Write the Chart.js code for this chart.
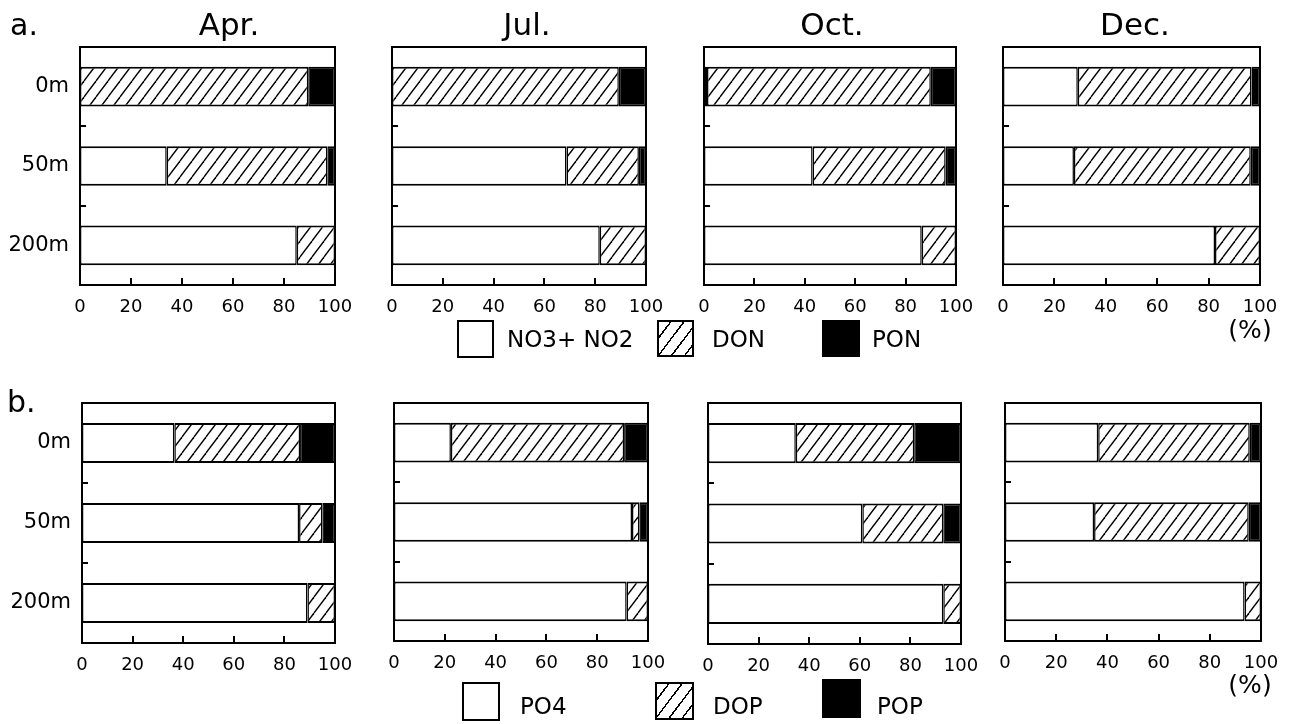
<!DOCTYPE html>
<html>
<head>
<meta charset="utf-8">
<script src="https://cdn.jsdelivr.net/npm/chart.js@4.4.1/dist/chart.umd.min.js"></script>
<style>
  body { margin: 0; background: #fff; width: 1289px; height: 724px; position: relative; overflow: hidden;
         font-family: "DejaVu Sans", sans-serif; color: #000; }
  canvas { position: absolute; }
  .t { position: absolute; white-space: nowrap; line-height: 1; }
  .sw { position: absolute; border: 2px solid #000; box-sizing: border-box; background: #fff; }
  .sw.h { background: repeating-linear-gradient(127deg, #fff 0 8.5px, #000 8.5px 10px, #fff 10px 10.5px); }
  .sw.k { background: #000; }
</style>
</head>
<body>
<script>
const depths = ["0m", "50m", "200m"];
const months = ["Apr.", "Jul.", "Oct.", "Dec."];

// a. 질소 (%), 월별로 [0m, 50m, 200m]
const no3no2 = [[0, 34, 85], [0, 68.7, 81.8], [1.2, 43.1, 86.4], [29.1, 27.6, 82.5]];
const don    = [[89.5, 63, 15], [89.3, 28.5, 18.2], [88.8, 52.8, 13.6], [67.6, 68.8, 17.5]];
const pon    = [[10.5, 3, 0], [10.7, 2.8, 0], [10, 4.1, 0], [3.3, 3.6, 0]];

// b. 인 (%)
const po4 = [[36.5, 85.8, 89.1], [22.4, 93.7, 91.6], [34.7, 61, 93], [36.4, 34.8, 93.6]];
const dop = [[49.7, 9.2, 10.9], [68.2, 2.9, 8.4], [46.8, 32, 7], [59.2, 60.4, 6.4]];
const pop = [[13.8, 5, 0], [9.4, 3.4, 0], [18.5, 7, 0], [4.4, 4.8, 0]];

const FONT = "DejaVu Sans";
const PAD_TOP = 30, PAD_RIGHT = 34;

// 빗금 패턴
const hatch = (() => {
  const c = document.createElement("canvas");
  c.width = 12; c.height = 16;
  const g = c.getContext("2d");
  g.fillStyle = "#fff"; g.fillRect(0, 0, 12, 16);
  g.strokeStyle = "#000"; g.lineWidth = 1.4;
  for (let k = -1; k <= 1; k++) {
    g.beginPath(); g.moveTo(k * 12, 16); g.lineTo(k * 12 + 12, 0); g.stroke();
  }
  return g.createPattern(c, "repeat");
})();

// 테두리 + 안쪽 눈금
const framePlugin = {
  id: "frame",
  afterDatasetsDraw(chart) {
    const { ctx, chartArea: a, scales: { x, y } } = chart;
    ctx.save();
    ctx.strokeStyle = "#000";
    ctx.lineWidth = 2;
    ctx.strokeRect(a.left, a.top, a.width, a.height);
    ctx.beginPath();
    x.ticks.forEach((t) => {
      if (t.value > 0 && t.value < 100) {
        const px = Math.round(x.getPixelForValue(t.value));
        ctx.moveTo(px, a.bottom); ctx.lineTo(px, a.bottom - 7);
      }
    });
    for (let i = 1; i < depths.length; i++) {
      const py = Math.round((y.getPixelForValue(i - 1) + y.getPixelForValue(i)) / 2);
      ctx.moveTo(a.left, py); ctx.lineTo(a.left + 6, py);
    }
    ctx.stroke();
    ctx.restore();
  },
};

function panel(frame, names, s0, s1, s2, showDepth) {
  const [L, T, W, H] = frame;
  const cv = document.createElement("canvas");
  cv.width = 80 + W + PAD_RIGHT;
  cv.height = PAD_TOP + H + 45;
  cv.style.left = (L - 80) + "px";
  cv.style.top = (T - PAD_TOP) + "px";
  document.body.appendChild(cv);
  const common = {
    borderColor: "#000", borderWidth: { top: 2, bottom: 2, left: 1.5, right: 1.5 },
    borderSkipped: false, inflateAmount: 0, barPercentage: 0.5, categoryPercentage: 1,
  };
  new Chart(cv, {
    type: "bar",
    data: {
      labels: depths,
      datasets: [
        { label: names[0], data: s0, backgroundColor: "#fff", ...common },
        { label: names[1], data: s1, backgroundColor: hatch, ...common },
        { label: names[2], data: s2, backgroundColor: "#000", ...common },
      ],
    },
    options: {
      indexAxis: "y", responsive: false, animation: false, devicePixelRatio: 1,
      layout: { padding: { top: PAD_TOP, right: PAD_RIGHT, left: 0, bottom: 0 } },
      plugins: { legend: { display: false }, tooltip: { enabled: false } },
      scales: {
        x: {
          stacked: true, min: 0, max: 100,
          ticks: { stepSize: 20, color: "#000", font: { family: FONT, size: 18 }, padding: 12, maxRotation: 0 },
          grid: { display: false, drawTicks: false }, border: { display: false },
          afterFit: (s) => { s.height = 45; },
        },
        y: {
          stacked: true,
          ticks: { display: showDepth, color: "#000", font: { family: FONT, size: 21 }, padding: 11 },
          grid: { display: false, drawTicks: false }, border: { display: false },
          afterFit: (s) => { s.width = 80; },
        },
      },
    },
    plugins: [framePlugin],
  });
}

function text(str, x, baseline, size, align) {
  const d = document.createElement("div");
  d.className = "t";
  d.textContent = str;
  d.style.fontSize = size + "px";
  d.style.top = (baseline - 0.846 * size) + "px";
  d.style.left = x + "px";
  if (align === "center") d.style.transform = "translateX(-50%)";
  document.body.appendChild(d);
}

function swatch(cls, x, y, w, h) {
  const d = document.createElement("div");
  d.className = "sw " + cls;
  Object.assign(d.style, { left: x + "px", top: y + "px", width: w + "px", height: h + "px" });
  document.body.appendChild(d);
}

const framesA = [[80, 47, 255, 238], [392, 47, 254, 238], [704, 47, 252, 238], [1003, 47, 257, 238]];
const framesB = [[82, 403, 253, 240], [394, 403, 254, 238], [708, 403, 253, 241], [1005, 403, 256, 238]];
const titleX = [229, 527, 832, 1135];

months.forEach((m, i) => {
  panel(framesA[i], ["NO3+ NO2", "DON", "PON"], no3no2[i], don[i], pon[i], i === 0);
  panel(framesB[i], ["PO4", "DOP", "POP"], po4[i], dop[i], pop[i], i === 0);
  text(m, titleX[i], 35, 31, "center");
});

text("a.", 10, 35, 30);
text("b.", 7, 412, 30);
text("(%)", 1250, 338, 25, "center");
text("(%)", 1250, 693, 25, "center");

// 범례
swatch("", 457, 320, 37, 38);  text("NO3+ NO2", 507, 347, 23);
swatch("h", 657, 320, 37, 37); text("DON", 712, 347, 23);
swatch("k", 822, 320, 38, 37); text("PON", 872, 347, 23);
swatch("", 462, 682, 38, 39);  text("PO4", 520, 714, 23);
swatch("h", 655, 682, 39, 38); text("DOP", 713, 714, 23);
swatch("k", 822, 679, 39, 39); text("POP", 877, 714, 23);
</script>
</body>
</html>
